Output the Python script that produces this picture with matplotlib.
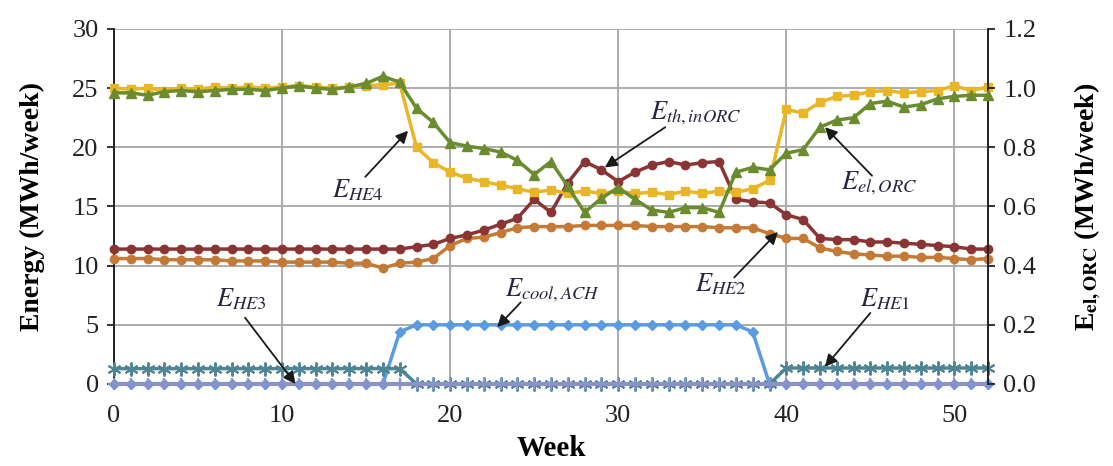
import matplotlib
matplotlib.use("Agg")
import matplotlib.pyplot as plt
import numpy as np

plt.rcParams['font.family'] = ['Liberation Serif', 'DejaVu Serif']
plt.rcParams['mathtext.fontset'] = 'stix'

weeks = list(range(0, 53))

# E_HE4 (MWh/week, left axis)
e_he4 = [25.0, 24.9, 25.0, 24.8, 25.0, 24.9, 25.1, 25.0, 25.1, 25.0, 25.1, 25.2, 25.1, 25.0, 25.1, 25.2, 25.3, 25.4,
         20.0, 18.7, 17.9, 17.4, 17.1, 16.8, 16.5, 16.2, 16.4, 16.1, 16.3, 16.1, 16.3, 16.1, 16.2, 16.0, 16.3, 16.1, 16.3,
         16.2, 16.5, 17.2, 23.2, 22.9, 23.8, 24.3, 24.4, 24.7, 24.8, 24.6, 24.7, 24.8, 25.2, 24.8, 25.1]

# E_el,ORC (MWh/week, right axis)
e_el_orc = [0.984, 0.984, 0.976, 0.988, 0.992, 0.988, 0.992, 0.996, 0.996, 0.992, 1.000, 1.008, 1.000, 0.996, 1.004,
            1.016, 1.040, 1.020, 0.932, 0.884, 0.816, 0.804, 0.796, 0.784, 0.756, 0.708, 0.752, 0.668, 0.580, 0.628,
            0.664, 0.624, 0.588, 0.580, 0.596, 0.596, 0.580, 0.716, 0.732, 0.724, 0.780, 0.792, 0.868, 0.892, 0.900,
            0.948, 0.956, 0.936, 0.944, 0.964, 0.972, 0.976, 0.976]

# E_th,inORC
e_th_in_orc = [11.4, 11.4, 11.4, 11.4, 11.4, 11.4, 11.4, 11.4, 11.4, 11.4, 11.4, 11.4, 11.4, 11.4, 11.4, 11.4, 11.4, 11.4,
               11.6, 11.8, 12.3, 12.6, 13.0, 13.5, 14.0, 15.6, 14.5, 17.0, 18.8, 18.1, 17.1, 17.9, 18.5, 18.8, 18.5, 18.7,
               18.8, 15.6, 15.4, 15.3, 14.3, 13.9, 12.3, 12.2, 12.2, 12.0, 12.0, 11.9, 11.8, 11.7, 11.6, 11.4, 11.4]

# E_HE2
e_he2 = [10.6, 10.6, 10.6, 10.5, 10.5, 10.5, 10.5, 10.4, 10.4, 10.4, 10.3, 10.3, 10.3, 10.3, 10.2, 10.2, 9.8, 10.2,
         10.3, 10.6, 11.7, 12.3, 12.4, 12.8, 13.2, 13.3, 13.3, 13.3, 13.4, 13.4, 13.4, 13.4, 13.3, 13.3, 13.3, 13.3,
         13.2, 13.2, 13.2, 12.7, 12.3, 12.3, 11.5, 11.2, 11.0, 10.9, 10.8, 10.8, 10.7, 10.7, 10.6, 10.5, 10.6]

# E_cool,ACH
e_cool_ach = [0.0] * 17 + [4.4] + [5.0] * 20 + [4.4] + [0.0] * 14

# E_HE1
e_he1 = [1.3] * 18 + [0.0] * 22 + [1.35] * 13

# E_HE3
e_he3 = [0.0] * 53

# annotation labels
labels = [r'$E_{HE4}$', r'$E_{th,inORC}$', r'$E_{el,ORC}$', r'$E_{HE2}$',
          r'$E_{cool,ACH}$', r'$E_{HE3}$', r'$E_{HE1}$']

fig = plt.figure(figsize=(11.13, 4.66), dpi=100)
ax = fig.add_axes([0.1024, 0.176, 0.7853, 0.7618])
ax2 = ax.twinx()

lw = 2.5
ms = 6
c_yellow = '#E8B626'
c_green = '#6A8C2E'
c_red = '#8A3434'
c_orange = '#C47A36'
c_blue = '#5A9BE2'
c_teal = '#4E8594'
c_lav = '#8A92C8'

ax.plot(weeks, e_cool_ach, color=c_blue, lw=lw, marker='D', ms=5, clip_on=False, zorder=3)
ax.plot(weeks, e_he1, color=c_teal, lw=lw, marker=(6, 2, 0), ms=10, mew=1.4, clip_on=False, zorder=4)
ax.plot(weeks, e_he3, color=c_lav, lw=lw + 0.5, marker='+', ms=9, mew=1.6, clip_on=False, zorder=5)
ax.plot(weeks, e_he2, color=c_orange, lw=lw, marker='o', ms=ms, clip_on=False, zorder=4)
ax.plot(weeks, e_th_in_orc, color=c_red, lw=lw, marker='o', ms=ms, clip_on=False, zorder=4)
ax.plot(weeks, e_he4, color=c_yellow, lw=lw, marker='s', ms=ms, clip_on=False, zorder=4)
ax2.plot(weeks, e_el_orc, color=c_green, lw=lw, marker='^', ms=ms + 1, clip_on=False, zorder=4)

ax.set_xlim(0, 52)
ax.set_ylim(0, 30)
ax2.set_ylim(0, 1.2)
ax.set_xticks([0, 10, 20, 30, 40, 50])
ax.set_yticks([0, 5, 10, 15, 20, 25, 30])
ax2.set_yticks([0.0, 0.2, 0.4, 0.6, 0.8, 1.0, 1.2])
ax2.set_yticklabels([f'{v:.1f}' for v in [0.0, 0.2, 0.4, 0.6, 0.8, 1.0, 1.2]])

ax.grid(True, color='#A6A6A6', lw=1.3)
ax.set_axisbelow(True)
for s in ['top', 'bottom']:
    ax.spines[s].set_visible(False)
    ax2.spines[s].set_visible(False)
ax.spines['right'].set_visible(False)
ax.spines['left'].set_color('#222222')
ax.spines['left'].set_linewidth(1.4)
ax2.spines['left'].set_visible(False)
ax2.spines['right'].set_color('#222222')
ax2.spines['right'].set_linewidth(1.4)

ax.tick_params(axis='y', labelsize=19, length=5, width=1.3, direction='out', colors='#222222', pad=6)
ax.tick_params(axis='x', labelsize=19, length=0, pad=15, colors='#222222')
ax2.tick_params(axis='y', labelsize=19, length=5, width=1.3, direction='out', colors='#222222', pad=6)

ax.set_xlabel('Week', fontsize=21, fontweight='bold', labelpad=6)
ax.set_ylabel('Energy (MWh/week)', fontsize=20, fontweight='bold', labelpad=20)
ax2.set_ylabel(r'E$_{\mathbf{el,ORC}}$ (MWh/week)', fontsize=20, fontweight='bold', labelpad=26)

arrow = dict(arrowstyle='-|>', color='#1a1a1a', lw=1.3, mutation_scale=18, shrinkA=0, shrinkB=0)
tsize = 19
tcol = '#2a2440'

# text centres and arrows (tail -> head), in data coordinates of the left axis
text_pos = [(14.5, 16.4), (34.6, 22.9), (45.5, 17.0), (36.1, 8.4), (26.1, 7.95), (7.6, 7.2), (45.9, 7.2)]
arrow_tail = [(14.95, 17.5), (32.8, 21.7), (45.1, 17.6), (36.9, 9.0), (24.2, 6.9), (7.8, 5.6), (45.0, 6.0)]
arrow_head = [(17.5, 21.4), (29.2, 18.3), (42.3, 21.7), (39.5, 12.85), (22.8, 4.8), (10.8, 0.0), (42.3, 1.45)]

for lab, tp, tl, hd in zip(labels, text_pos, arrow_tail, arrow_head):
    ax.text(tp[0], tp[1], lab, fontsize=tsize, color=tcol, ha='center', va='center', zorder=7)
    ax.annotate('', xy=hd, xytext=tl, arrowprops=arrow, zorder=7)

fig.savefig('out.png', dpi=100)
